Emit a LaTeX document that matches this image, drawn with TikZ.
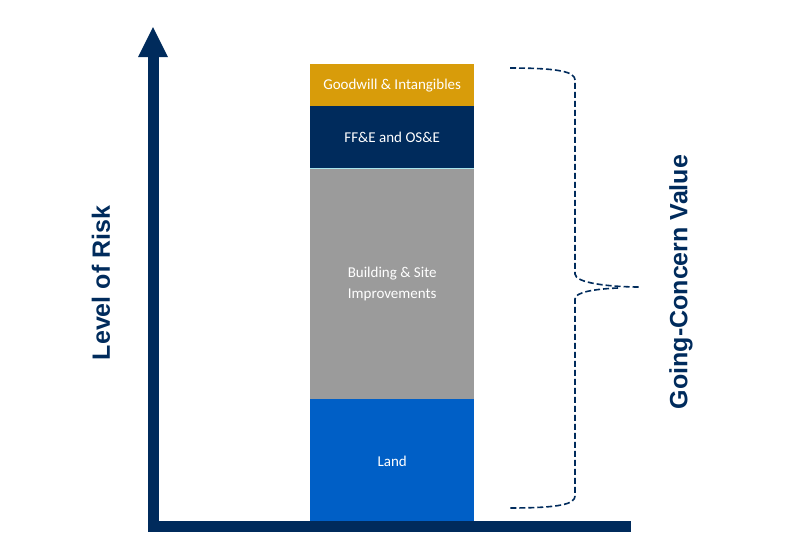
\documentclass[tikz,border=0pt]{standalone}
\usepackage{fontspec}
\setmainfont{Carlito}
\newfontfamily\axisfont{Liberation Sans}
\definecolor{navy}{HTML}{002B5C}
\definecolor{gold}{HTML}{D89C0A}
\definecolor{stone}{HTML}{9B9B9B}
\definecolor{landblue}{HTML}{005FC6}
\definecolor{seam}{HTML}{A8E4EC}
\tikzset{
  layer/.style={draw=none, minimum width=164pt, inner sep=0pt, text=white, font=\fontsize{15}{21}\selectfont, align=center, anchor=north west},
  axislabel/.style={text=navy, font=\axisfont\bfseries\fontsize{25}{30}\selectfont, rotate=90, inner sep=0pt},
  bracestyle/.style={draw=navy, line width=1.6pt, dash pattern=on 6pt off 3pt}
}
\begin{document}
\begin{tikzpicture}[x=1pt,y=-1pt]
\useasboundingbox (0,0) rectangle (785,539);
% layers
\node[layer, fill=gold, minimum height=42pt] (gw) at (310,64) {Goodwill \& Intangibles};
\node[layer, fill=navy, minimum height=62pt] (ffe) at (310,106) {FF\&E and OS\&E};
\node[layer, fill=stone, minimum height=231pt] (bld) at (310,168) {Building \& Site\\Improvements};
\node[layer, fill=landblue, minimum height=125pt] (land) at (310,399) {Land};
\draw[seam, line width=1pt] (ffe.south west) -- (ffe.south east);
% axes
\fill[navy] (148,56) rectangle (159,532);
\fill[navy] (148,521) rectangle (631,532);
\fill[navy] (138,57) -- (168,57) -- (153,27) -- cycle;
% labels
\node[axislabel] (risk) at (101,283) {Level of Risk};
\node[axislabel] (gcv) at (681,282) {Going-Concern Value};
% brace
\coordinate (btop) at (510,68);
\coordinate (bmid) at (640,287);
\coordinate (bbot) at (510,508);
\draw[bracestyle] (btop) .. controls (560,68) and (575,72) .. (575,80) -- (575,274) .. controls (575,283) and (610,287) .. (bmid);
\draw[bracestyle] (618,288) .. controls (595,289) and (575,292) .. (575,299) -- (575,496) .. controls (575,504) and (560,508) .. (bbot);
\end{tikzpicture}
\end{document}
